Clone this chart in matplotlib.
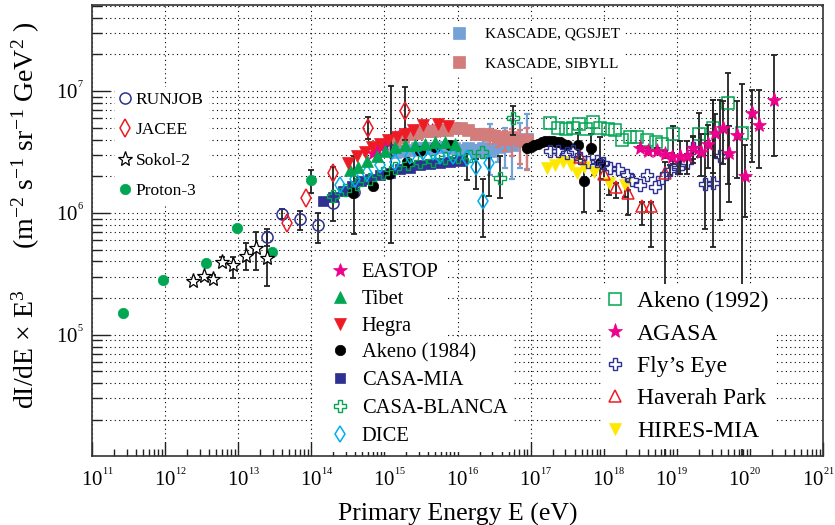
import numpy as np
import matplotlib
matplotlib.use("Agg")
import matplotlib.pyplot as plt
from matplotlib.ticker import LogLocator, FuncFormatter, NullFormatter
import matplotlib.transforms as mtransforms

plt.rcParams['font.family'] = ['Liberation Serif', 'DejaVu Serif']
plt.rcParams['mathtext.fontset'] = 'custom'
plt.rcParams['mathtext.rm'] = 'Liberation Serif'
plt.rcParams['mathtext.it'] = 'Liberation Serif:italic'
plt.rcParams['mathtext.bf'] = 'Liberation Serif:bold'

# ---------------- data: log10(E/eV), log10(flux), error bars in dex ----------------
proton3_loge = [11.42, 11.97, 12.56, 12.98, 13.46, 14.00]
proton3_logf = [5.18, 5.45, 5.59, 5.88, 5.68, 6.27]
proton3_up = [0, 0, 0, 0, 0, 0.08]
proton3_dn = [0, 0, 0, 0, 0, 0.11]

sokol_loge = [12.38, 12.53, 12.66, 12.78, 12.93, 13.11, 13.24, 13.39]
sokol_logf = [5.44, 5.48, 5.46, 5.60, 5.57, 5.65, 5.71, 5.63]
sokol_up = [0, 0, 0.03, 0.04, 0.07, 0.10, 0.13, 0.21]
sokol_dn = [0, 0, 0.03, 0.03, 0.10, 0.12, 0.18, 0.23]

runjob_loge = [13.39, 13.60, 13.85, 14.09, 14.30, 14.58, 15.09]
runjob_logf = [5.80, 5.99, 5.95, 5.90, 6.08, 6.17, 6.52]
runjob_up = [0.07, 0.04, 0.07, 0.10, 0, 0.30, 0.52]
runjob_dn = [0.07, 0.04, 0.09, 0.15, 0, 0.34, 0.77]

jacee_loge = [13.67, 13.93, 14.30, 14.78, 15.28]
jacee_logf = [5.92, 6.12, 6.33, 6.70, 6.84]
jacee_up = [0, 0, 0.05, 0.09, 0.19]
jacee_dn = [0, 0, 0.40, 0.09, 0.24]

eastop_loge = [14.85, 14.90, 14.95, 15.00, 15.05, 15.10, 15.15, 15.20, 15.25, 15.30,
               15.35, 15.40, 15.45, 15.50, 15.55, 15.60, 15.65, 15.70]
eastop_logf = [6.49, 6.52, 6.55, 6.57, 6.59, 6.61, 6.62, 6.63, 6.64, 6.65,
               6.66, 6.66, 6.67, 6.67, 6.68, 6.68, 6.68, 6.67]

tibet_loge = [14.53, 14.64, 14.76, 14.90, 15.01, 15.15, 15.28, 15.42, 15.56, 15.69, 15.83, 15.97]
tibet_logf = [6.35, 6.38, 6.43, 6.47, 6.51, 6.54, 6.56, 6.56, 6.57, 6.58, 6.58, 6.57]

hegra_loge = [14.50, 14.63, 14.73, 14.83, 14.94, 15.05, 15.17, 15.28, 15.39, 15.53, 15.73, 15.87]
hegra_logf = [6.41, 6.47, 6.50, 6.54, 6.57, 6.60, 6.62, 6.65, 6.68, 6.72, 6.73, 6.71]

akeno84_loge = [14.57, 14.84, 15.06, 15.31, 15.49, 15.69, 15.90,
                16.95, 17.00, 17.05, 17.10, 17.15, 17.20, 17.25, 17.30, 17.35, 17.40, 17.45, 17.50,
                17.65, 17.73, 17.83, 17.95]
akeno84_logf = [6.16, 6.22, 6.32, 6.42, 6.51, 6.54, 6.56,
                6.53, 6.54, 6.56, 6.57, 6.58, 6.59, 6.59, 6.59, 6.58, 6.58, 6.57, 6.56,
                6.56, 6.26, 6.53, 6.41]
akeno84_up = [0] * 19 + [0.10, 0.12, 0.12, 0.21]
akeno84_dn = [0] * 19 + [0.10, 0.25, 0.05, 0.39]

casamia_loge = [14.16, 14.30, 14.43, 14.56, 14.68, 14.80, 14.94, 15.08, 15.21, 15.35,
                15.49, 15.62, 15.76, 15.90, 16.03]
casamia_logf = [6.10, 6.13, 6.18, 6.22, 6.26, 6.28, 6.31, 6.33, 6.36, 6.37,
                6.39, 6.40, 6.41, 6.42, 6.43]

casablanca_loge = [14.30, 14.46, 14.63, 14.80, 14.98, 15.15, 15.32, 15.49, 15.66, 15.83,
                   16.01, 16.17, 16.33, 16.58, 16.76]
casablanca_logf = [6.14, 6.19, 6.24, 6.28, 6.33, 6.37, 6.40, 6.42, 6.43, 6.45,
                   6.46, 6.47, 6.50, 6.29, 6.78]
casablanca_up = [0] * 13 + [0.18, 0.10]
casablanca_dn = [0] * 13 + [0.17, 0.14]

dice_loge = [14.39, 14.60, 14.76, 14.94, 15.15, 15.35, 15.53, 15.66, 15.76, 15.94,
             16.13, 16.25, 16.35, 16.43]
dice_logf = [6.23, 6.28, 6.33, 6.39, 6.42, 6.47, 6.50, 6.50, 6.47, 6.47,
             6.45, 6.38, 6.10, 6.41]
dice_up = [0] * 10 + [0.03, 0.06, 0.18, 0.04]
dice_dn = [0] * 10 + [0.18, 0.18, 0.30, 0.27]

kascade_loge = [15.15, 15.25, 15.35, 15.45, 15.55, 15.65, 15.75, 15.85, 15.95, 16.05,
                16.15, 16.25, 16.35, 16.45, 16.55, 16.65, 16.75, 16.85, 16.95]
qgsjet_logf = [6.50, 6.51, 6.52, 6.53, 6.53, 6.53, 6.54, 6.54, 6.53, 6.52,
               6.53, 6.51, 6.53, 6.51, 6.54, 6.55, 6.56, 6.59, 6.61]
qgsjet_up = [0.02, 0.02, 0.02, 0.02, 0.02, 0.02, 0.02, 0.03, 0.03, 0.03,
             0.04, 0.05, 0.08, 0.22, 0.10, 0.15, 0.20, 0.15, 0.20]
qgsjet_dn = [0.02, 0.02, 0.02, 0.02, 0.02, 0.02, 0.02, 0.03, 0.03, 0.03,
             0.04, 0.06, 0.08, 0.20, 0.12, 0.18, 0.28, 0.22, 0.25]
sibyll_logf = [6.60, 6.62, 6.65, 6.66, 6.67, 6.67, 6.68, 6.68, 6.70, 6.70,
               6.68, 6.65, 6.65, 6.64, 6.62, 6.61, 6.62, 6.60, 6.60]
sibyll_up = [0.02, 0.02, 0.02, 0.02, 0.02, 0.02, 0.02, 0.02, 0.02, 0.02,
             0.03, 0.03, 0.04, 0.05, 0.05, 0.06, 0.07, 0.08, 0.10]
sibyll_dn = [0.02, 0.02, 0.02, 0.02, 0.02, 0.02, 0.02, 0.02, 0.02, 0.02,
             0.03, 0.04, 0.05, 0.07, 0.08, 0.10, 0.15, 0.20, 0.25]

akeno92_loge = [17.27, 17.37, 17.48, 17.58, 17.66, 17.76, 17.85, 17.95, 18.06, 18.15,
                18.25, 18.36, 18.46, 18.59, 18.72, 18.80, 18.95, 19.30, 19.50, 19.70, 19.89]
akeno92_logf = [6.74, 6.70, 6.69, 6.70, 6.73, 6.69, 6.75, 6.70, 6.69, 6.68,
                6.60, 6.62, 6.62, 6.60, 6.58, 6.57, 6.65, 6.65, 6.70, 6.90, 6.66]
akeno92_up = [0] * 16 + [0.06, 0.17, 0.23, 0.25, 0.40]
akeno92_dn = [0] * 16 + [0.25, 0.19, 0.37, 0.66, 3.0]

agasa_loge = [18.50, 18.61, 18.73, 18.84, 18.93, 19.04, 19.14, 19.22, 19.33, 19.43,
              19.52, 19.63, 19.72, 19.82, 19.93, 20.03, 20.12, 20.33]
agasa_logf = [6.53, 6.51, 6.51, 6.48, 6.46, 6.47, 6.47, 6.53, 6.50, 6.57,
              6.66, 6.70, 6.49, 6.64, 6.30, 6.82, 6.72, 6.93]
agasa_up = [0.02, 0.02, 0.02, 0.03, 0.03, 0.12, 0.12, 0.10, 0.15, 0.15,
            0.15, 0.22, 0.22, 0.28, 0.26, 0.19, 0.29, 0.37]
agasa_dn = [0.02, 0.02, 0.02, 0.03, 0.03, 0.15, 0.15, 0.12, 0.20, 0.20,
            0.20, 0.30, 0.40, 0.35, 0.33, 0.40, 0.35, 0.46]

flyseye_loge = [17.27, 17.37, 17.50, 17.58, 17.68, 17.79, 17.91, 17.99, 18.09, 18.20,
                18.32, 18.39, 18.50, 18.59, 18.70, 18.80, 18.91, 19.01, 19.14, 19.22,
                19.39, 19.50, 19.59]
flyseye_logf = [6.51, 6.51, 6.49, 6.51, 6.45, 6.42, 6.43, 6.41, 6.37, 6.36,
                6.31, 6.27, 6.23, 6.31, 6.21, 6.29, 6.35, 6.37, 6.42, 6.53,
                6.24, 6.25, 6.47]
flyseye_up = [0] * 16 + [0.04, 0.05, 0.06, 0.09, 0.41, 0.68, 0.46]
flyseye_dn = [0] * 16 + [0.04, 0.05, 0.06, 0.09, 0.37, 0.53, 0.53]

haverah_loge = [17.68, 18.00, 18.17, 18.33, 18.52, 18.65, 18.84]
haverah_logf = [6.46, 6.32, 6.21, 6.16, 6.06, 6.06, 6.33]
haverah_up = [0.02, 0.04, 0.04, 0.03, 0.03, 0.03, 0.09]
haverah_dn = [0.02, 0.04, 0.09, 0.18, 0.16, 0.34, 3.0]

hires_loge = [17.22, 17.33, 17.44, 17.55, 17.63, 17.73, 17.87, 18.07, 18.29]
hires_logf = [6.37, 6.39, 6.42, 6.39, 6.33, 6.38, 6.34, 6.25, 6.23]
hires_up = [0, 0, 0, 0, 0, 0, 0.02, 0.03, 0.03]
hires_dn = [0, 0, 0, 0, 0, 0, 0.03, 0.10, 0.10]

x_label = "Primary Energy E (eV)"
y_label = r"dI/dE $\times$ E$^{3}$      (m$^{-2}$ s$^{-1}$ sr$^{-1}$ GeV$^{2}$ )"

# ---------------- colours ----------------
GREEN = '#00A651'
RED = '#ED1C24'
NAVY = '#2E3192'
MAGENTA = '#EC008C'
CYAN = '#00AEEF'
YELLOW = '#FFE800'
KQ = '#74A2D6'
KS = '#D27C7C'
ECOL = '#222222'

fig = plt.figure(figsize=(8.35, 5.25), dpi=100)
ax = fig.add_axes([92 / 835, 1 - 456 / 525, 731 / 835, 451 / 525])
ax.set_xscale('log')
ax.set_yscale('log')


def draw(loge, logf, label, style, up=None, dn=None, ecolor=ECOL, z=3, elw=1.3):
    loge = np.asarray(loge, float)
    logf = np.asarray(logf, float)
    e = 10.0 ** loge
    f = 10.0 ** logf
    if up is not None:
        up = np.asarray(up, float)
        dn = np.asarray(dn, float)
        m = (up > 0) | (dn > 0)
        if m.any():
            lo = f[m] - 10.0 ** (logf[m] - dn[m])
            hi = 10.0 ** (logf[m] + up[m]) - f[m]
            ax.errorbar(e[m], f[m], yerr=[lo, hi], fmt='none', ecolor=ecolor,
                        elinewidth=elw, capsize=2.5, capthick=elw, zorder=z - 0.1)
    h, = ax.plot(e, f, linestyle='none', label=label, zorder=z, **style)
    return h


def openm(marker, color, ms, mew=1.1):
    return dict(marker=marker, mfc='none', mec=color, ms=ms, mew=mew)


def filledm(marker, color, ms):
    return dict(marker=marker, mfc=color, mec=color, ms=ms, mew=0.5)


h_eastop = draw(eastop_loge, eastop_logf, 'EASTOP', filledm('*', MAGENTA, 10), z=2.0)
h_kq = draw(kascade_loge, qgsjet_logf, 'KASCADE, QGSJET', filledm('s', KQ, 8),
            qgsjet_up, qgsjet_dn, ecolor=KQ, z=2.2, elw=1.6)
h_ks = draw(kascade_loge, sibyll_logf, 'KASCADE, SIBYLL', filledm('s', KS, 8),
            sibyll_up, sibyll_dn, ecolor=KS, z=2.4, elw=1.6)

h_proton = draw(proton3_loge, proton3_logf, 'Proton-3', filledm('o', GREEN, 7.5), proton3_up, proton3_dn)
h_sokol = draw(sokol_loge, sokol_logf, 'Sokol-2', dict(marker='*', mfc='white', mec='black', ms=11, mew=0.9),
               sokol_up, sokol_dn)
h_runjob = draw(runjob_loge, runjob_logf, 'RUNJOB', openm('o', NAVY, 8), runjob_up, runjob_dn)
h_jacee = draw(jacee_loge, jacee_logf, 'JACEE', openm('d', RED, 9), jacee_up, jacee_dn)
h_casamia = draw(casamia_loge, casamia_logf, 'CASA-MIA', filledm('s', NAVY, 7))
h_akeno84 = draw(akeno84_loge, akeno84_logf, 'Akeno (1984)', filledm('o', 'black', 7.5), akeno84_up, akeno84_dn)
h_casab = draw(casablanca_loge, casablanca_logf, 'CASA-BLANCA', openm('P', GREEN, 8.5, 1.0),
               casablanca_up, casablanca_dn)
h_dice = draw(dice_loge, dice_logf, 'DICE', openm('d', CYAN, 8.5), dice_up, dice_dn)
h_tibet = draw(tibet_loge, tibet_logf, 'Tibet', filledm('^', GREEN, 8))
h_hegra = draw(hegra_loge, hegra_logf, 'Hegra', filledm('v', RED, 8))

h_akeno92 = draw(akeno92_loge, akeno92_logf, 'Akeno (1992)', openm('s', GREEN, 9), akeno92_up, akeno92_dn)
h_hires = draw(hires_loge, hires_logf, 'HIRES-MIA', filledm('v', YELLOW, 8.5), hires_up, hires_dn)
h_haverah = draw(haverah_loge, haverah_logf, 'Haverah Park', openm('^', RED, 9), haverah_up, haverah_dn)
h_flyseye = draw(flyseye_loge, flyseye_logf, "Fly\u2019s Eye", openm('P', NAVY, 9, 1.0), flyseye_up, flyseye_dn)
h_agasa = draw(agasa_loge, agasa_logf, 'AGASA', filledm('*', MAGENTA, 11), agasa_up, agasa_dn, z=3.2)

# ---------------- axes ----------------
ax.set_xlim(1e11, 1e21)
ax.set_ylim(10 ** 4.005, 10 ** 7.707)

ax.xaxis.set_major_locator(LogLocator(base=10, numticks=20))
ax.xaxis.set_minor_locator(LogLocator(base=10, subs=np.arange(2, 10), numticks=20))
ax.yaxis.set_major_locator(LogLocator(base=10, numticks=20))
ax.yaxis.set_minor_locator(LogLocator(base=10, subs=np.arange(2, 10), numticks=20))
fmt = FuncFormatter(lambda v, p: r"$10^{{}^{%d}}$" % int(round(np.log10(v))))
ax.xaxis.set_major_formatter(fmt)
ax.yaxis.set_major_formatter(fmt)
ax.xaxis.set_minor_formatter(NullFormatter())
ax.yaxis.set_minor_formatter(NullFormatter())

ax.tick_params(which='both', direction='in', top=False, right=False, color='#222222')
ax.tick_params(axis='x', which='major', length=10, width=1.0, pad=9, labelsize=15)
ax.tick_params(axis='x', which='minor', length=5, width=1.0)
ax.tick_params(axis='y', which='major', length=13, width=1.0, pad=6, labelsize=15)
ax.tick_params(axis='y', which='minor', length=7, width=1.0)

grid_style = dict(color='black', linestyle=(0, (1, 3)), linewidth=0.8)
ax.grid(True, which='major', axis='x', **grid_style)
ax.grid(True, which='both', axis='y', **grid_style)
ax.set_axisbelow(True)

for s in ax.spines.values():
    s.set_linewidth(1.2)
    s.set_color('#333333')

# shift x tick labels slightly, as in the reference (right for low decades, left near the edge)
shift_right = mtransforms.ScaledTranslation(5 / 100, 0, fig.dpi_scale_trans)
shift_left = mtransforms.ScaledTranslation(-5 / 100, 0, fig.dpi_scale_trans)
for loc, tick in zip(ax.xaxis.get_majorticklocs(), ax.xaxis.get_major_ticks()):
    sh = shift_right if np.log10(loc) < 18.5 else shift_left
    tick.label1.set_transform(tick.label1.get_transform() + sh)

ax.set_xlabel(x_label, fontsize=18.5)
ax.xaxis.set_label_coords(0.5, -0.103)
ax.set_ylabel(y_label, fontsize=20)
ax.yaxis.set_label_coords(-0.068, 0.534)

# ---------------- legends ----------------
common = dict(frameon=True, framealpha=1.0, facecolor='white', edgecolor='none',
              fancybox=False, borderaxespad=0.0, numpoints=1, loc='upper left')

leg1 = ax.legend(handles=[h_runjob, h_jacee, h_sokol, h_proton], bbox_to_anchor=(0.0315, 0.819),
                 fontsize=12.5, borderpad=0.3, handlelength=0.55, handletextpad=0.35,
                 labelspacing=0.82, **common)
ax.add_artist(leg1)
leg2 = ax.legend(handles=[h_kq, h_ks], bbox_to_anchor=(0.4897, 0.961),
                 fontsize=11, borderpad=0.3, handlelength=0.58, handletextpad=1.41,
                 labelspacing=1.02, **common)
ax.add_artist(leg2)
leg3 = ax.legend(handles=[h_eastop, h_tibet, h_hegra], bbox_to_anchor=(0.3023, 0.442),
                 fontsize=14.8, borderpad=0.3, handlelength=2.02, handletextpad=0.06,
                 labelspacing=0.36, **common)
ax.add_artist(leg3)
leg4 = ax.legend(handles=[h_akeno84, h_casamia, h_casab, h_dice], bbox_to_anchor=(0.3023, 0.2647),
                 fontsize=14.8, borderpad=0.3, handlelength=2.02, handletextpad=0.06,
                 labelspacing=0.42, **common)
ax.add_artist(leg4)
leg5 = ax.legend(handles=[h_akeno92, h_agasa, h_flyseye, h_haverah, h_hires], bbox_to_anchor=(0.699, 0.382),
                 fontsize=17, borderpad=0.3, handlelength=0.43, handletextpad=0.72,
                 labelspacing=0.46, **common)
for lg in (leg1, leg2, leg3, leg4, leg5):
    lg.set_zorder(10)

fig.savefig('out.png', dpi=100)
